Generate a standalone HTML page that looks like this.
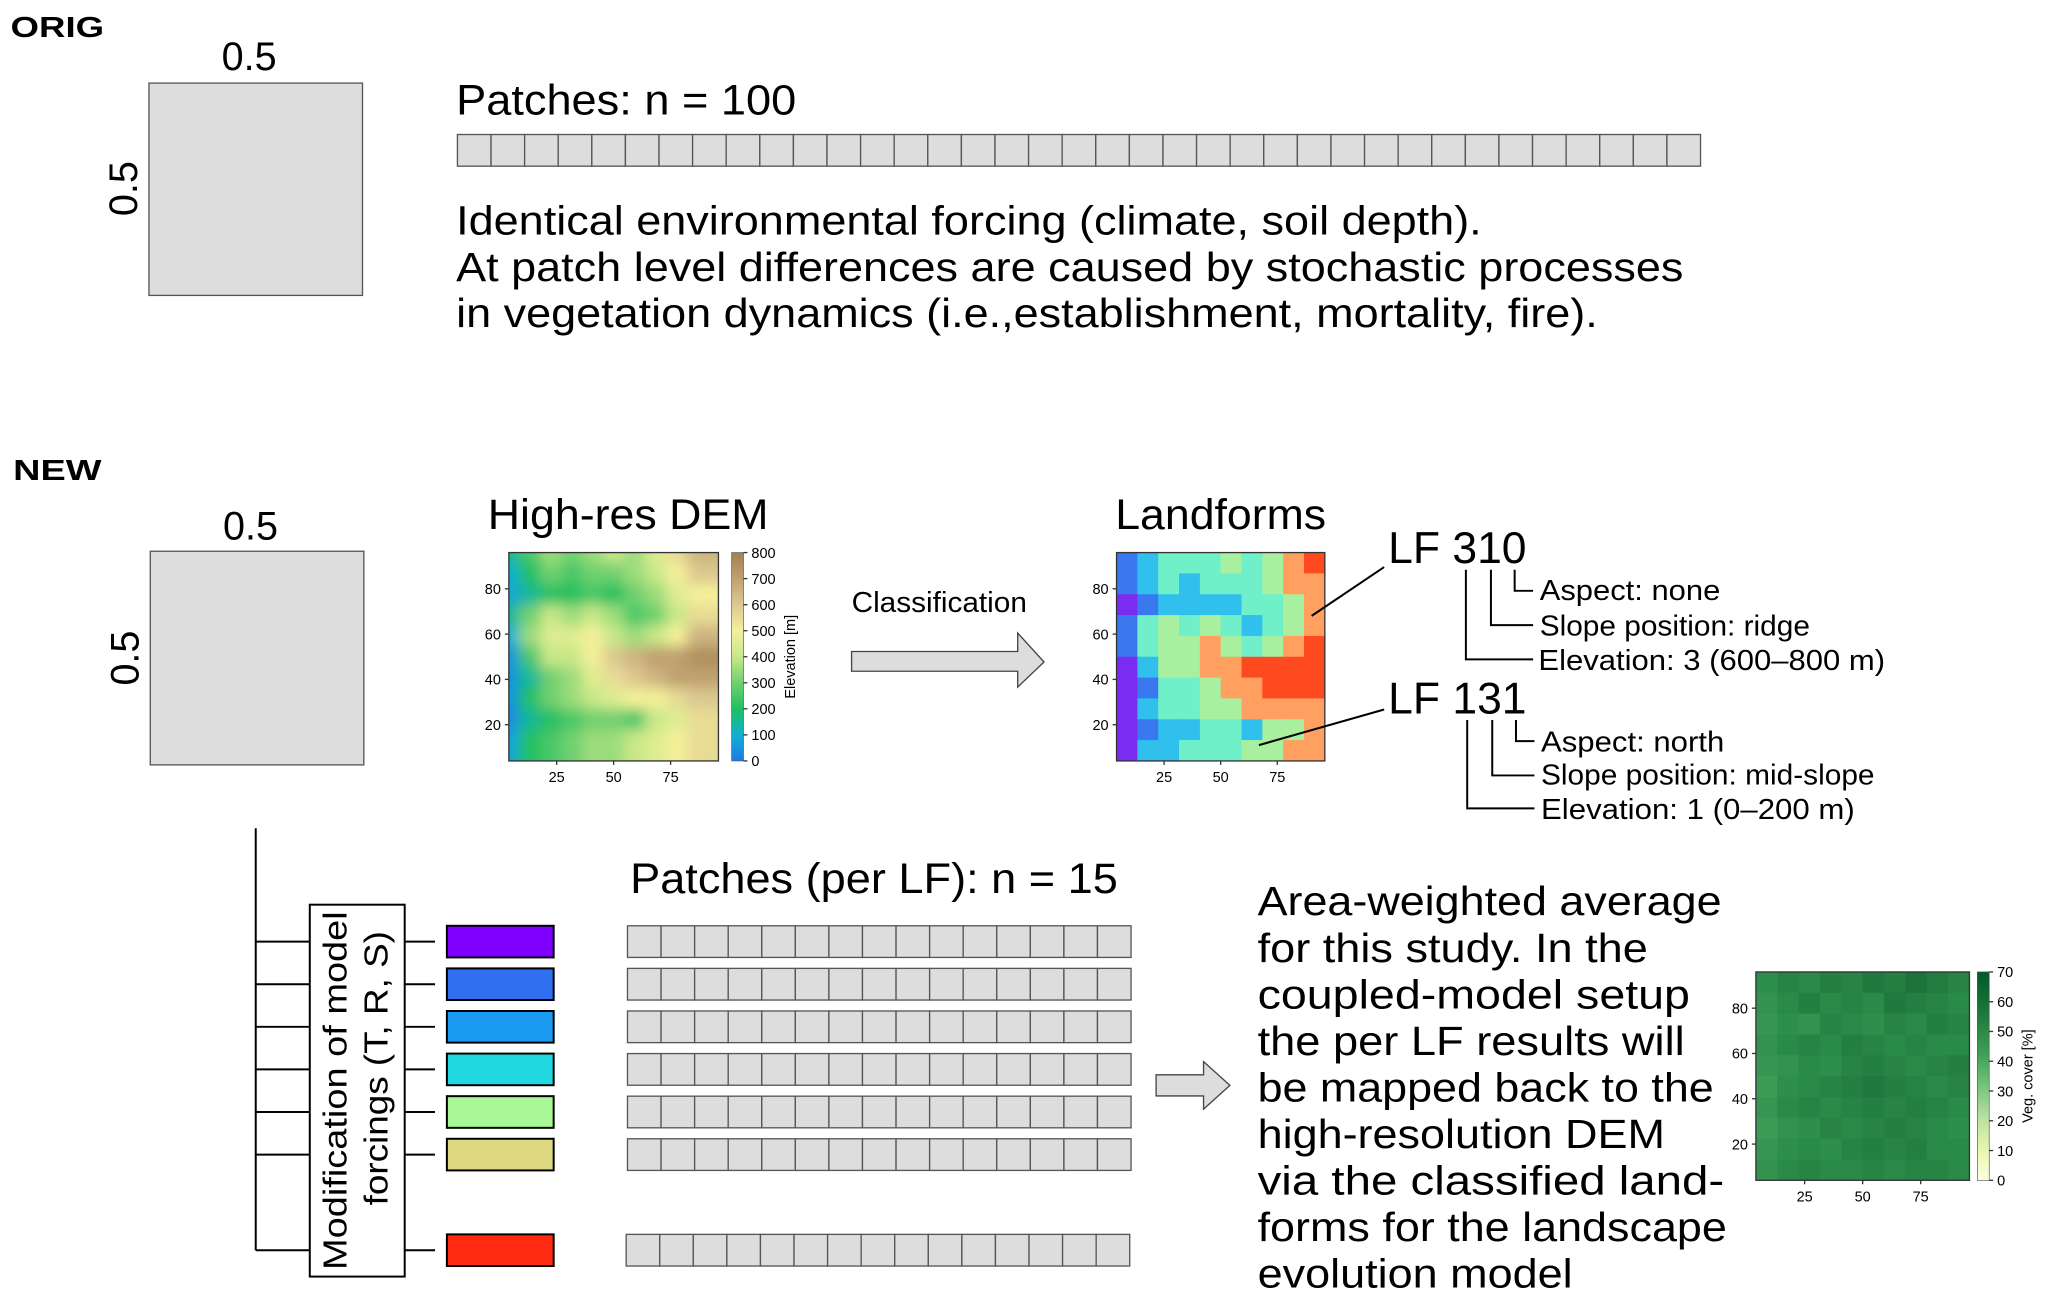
<!DOCTYPE html>
<html><head><meta charset="utf-8"><style>
html,body{margin:0;padding:0;background:#fff;width:2067px;height:1299px;overflow:hidden}
svg{display:block}
text{font-family:"Liberation Sans",sans-serif;fill:#000}
</style></head><body>
<svg id="fig" width="2067" height="1299" viewBox="0 0 1568 985" preserveAspectRatio="none" xmlns="http://www.w3.org/2000/svg">
<defs>
<filter id="blur" x="0" y="0" width="1" height="1"><feGaussianBlur stdDeviation="5"/></filter>
<clipPath id="clipDem"><rect x="386" y="419" width="159" height="158"/></clipPath>
<clipPath id="clipLf"><rect x="847" y="419" width="158" height="158"/></clipPath>
<clipPath id="clipVeg"><rect x="1332" y="737" width="162" height="158"/></clipPath>
<linearGradient id="demCb" x1="0" y1="1" x2="0" y2="0">
<stop offset="0" stop-color="#1f78e8"/><stop offset="0.125" stop-color="#10b0d0"/><stop offset="0.25" stop-color="#20c060"/><stop offset="0.375" stop-color="#70d070"/><stop offset="0.5" stop-color="#c8e888"/><stop offset="0.625" stop-color="#f4f09a"/><stop offset="0.75" stop-color="#dcc890"/><stop offset="0.875" stop-color="#c0a070"/><stop offset="1" stop-color="#a08050"/></linearGradient>
<linearGradient id="vegCb" x1="0" y1="1" x2="0" y2="0">
<stop offset="0" stop-color="#ffffe0"/><stop offset="0.15" stop-color="#e8f5b0"/><stop offset="0.3" stop-color="#b8e0a0"/><stop offset="0.45" stop-color="#78c47c"/><stop offset="0.6" stop-color="#40a058"/><stop offset="0.8" stop-color="#20773c"/><stop offset="1" stop-color="#005a28"/></linearGradient>
</defs>

<text x="8" y="28" font-size="22" font-weight="bold" textLength="71" lengthAdjust="spacingAndGlyphs">ORIG</text>
<text x="189" y="53" font-size="30" text-anchor="middle">0.5</text>
<rect x="113" y="63" width="162" height="161" fill="#dddddd" stroke="#555" stroke-width="1"/>
<text transform="translate(104,143) rotate(-90)" font-size="30" text-anchor="middle">0.5</text>
<text x="346" y="87" font-size="32" textLength="258" lengthAdjust="spacingAndGlyphs">Patches: n = 100</text>
<g id="origStrip"></g>
<text x="346" y="178" font-size="31" textLength="778" lengthAdjust="spacingAndGlyphs">Identical environmental forcing (climate, soil depth).</text>
<text x="346" y="213" font-size="31" textLength="931" lengthAdjust="spacingAndGlyphs">At patch level differences are caused by stochastic processes</text>
<text x="346" y="248" font-size="31" textLength="866" lengthAdjust="spacingAndGlyphs">in vegetation dynamics (i.e.,establishment, mortality, fire).</text>

<text x="10" y="364" font-size="22" font-weight="bold" textLength="67" lengthAdjust="spacingAndGlyphs">NEW</text>
<text x="190" y="409" font-size="30" text-anchor="middle">0.5</text>
<rect x="114" y="418" width="162" height="162" fill="#dddddd" stroke="#555" stroke-width="1"/>
<text transform="translate(105,499) rotate(-90)" font-size="30" text-anchor="middle">0.5</text>

<text x="370" y="401" font-size="32" textLength="213" lengthAdjust="spacingAndGlyphs">High-res DEM</text>
<g id="dem"></g>
<text x="646" y="464" font-size="22" textLength="133" lengthAdjust="spacingAndGlyphs">Classification</text>
<path d="M646,494 H772 V480 L792,502 L772,521 V509 H646 Z" fill="#dddddd" stroke="#444" stroke-width="1"/>
<text x="846" y="401" font-size="32" textLength="160" lengthAdjust="spacingAndGlyphs">Landforms</text>
<g id="lf"></g>
<line x1="995" y1="467" x2="1050" y2="430" stroke="#000" stroke-width="1.5"/>
<line x1="955" y1="565" x2="1050" y2="538" stroke="#000" stroke-width="1.5"/>
<text x="1053" y="427" font-size="34" textLength="105" lengthAdjust="spacingAndGlyphs">LF 310</text>
<text x="1053" y="541" font-size="34" textLength="105" lengthAdjust="spacingAndGlyphs">LF 131</text>
<g fill="none" stroke="#000" stroke-width="1.5">
<path d="M1112,432 V500 H1163 M1131,432 V474 H1163 M1149,432 V448 H1163"/>
</g>
<g fill="none" stroke="#000" stroke-width="1.5">
<path d="M1113,546 V613 H1164 M1132,546 V588 H1164 M1150,546 V562 H1164"/>
</g>
<text x="1168" y="455" font-size="22" textLength="137" lengthAdjust="spacingAndGlyphs">Aspect: none</text>
<text x="1168" y="482" font-size="22" textLength="205" lengthAdjust="spacingAndGlyphs">Slope position: ridge</text>
<text x="1167" y="508" font-size="22" textLength="263" lengthAdjust="spacingAndGlyphs">Elevation: 3 (600–800 m)</text>
<text x="1169" y="570" font-size="22" textLength="139" lengthAdjust="spacingAndGlyphs">Aspect: north</text>
<text x="1169" y="595" font-size="22" textLength="253" lengthAdjust="spacingAndGlyphs">Slope position: mid-slope</text>
<text x="1169" y="621" font-size="22" textLength="238" lengthAdjust="spacingAndGlyphs">Elevation: 1 (0–200 m)</text>

<path d="M194,628 V948" stroke="#000" stroke-width="1.5" fill="none"/>
<g id="bracket"></g>
<rect x="235" y="686" width="72" height="282" fill="#fff" stroke="#000" stroke-width="1.5"/>
<text transform="translate(263,827) rotate(-90)" font-size="25" text-anchor="middle" textLength="272" lengthAdjust="spacingAndGlyphs">Modification of model</text>
<text transform="translate(294,810) rotate(-90)" font-size="25" text-anchor="middle" textLength="208" lengthAdjust="spacingAndGlyphs">forcings (T, R, S)</text>
<g id="lfRows"></g>
<text x="478" y="677" font-size="32" textLength="370" lengthAdjust="spacingAndGlyphs">Patches (per LF): n = 15</text>
<path d="M877,815 H913 V805 L933,823 L913,841 V831 H877 Z" fill="#dddddd" stroke="#444" stroke-width="1"/>
<g id="para"></g>
<g id="veg"></g>
</svg>
<script>
// ---- data ----
const origPatchCount = 37;
const lfPatchCount = 15;
const lfColors = ["#8000ff","#3070f0","#1a9af0","#20d8e0","#a8f898","#ddd880","#ff2a10"];
const axisTicks = [20,40,60,80];
const axisTicksX = [25,50,75];
const demTicks = [0,100,200,300,400,500,600,700,800];
const vegTicks = [0,10,20,30,40,50,60,70];
const elevation = [
 [150,250,350,300,350,400,350,450,550,650],
 [100,200,300,250,300,300,350,400,500,600],
 [ 80,150,200,200,250,200,300,350,450,500],
 [150,300,400,350,400,350,250,300,400,550],
 [100,350,450,450,500,400,350,400,500,650],
 [ 50,250,400,400,500,600,650,700,700,750],
 [ 50,150,300,350,450,550,600,650,700,700],
 [ 50,200,300,350,400,450,500,500,550,600],
 [ 30,150,200,250,300,300,250,400,450,550],
 [ 80,200,250,300,350,350,400,450,500,550]];
const vegCover = [
 [48,52,50,54,52,56,54,58,55,52],
 [46,50,54,50,52,50,56,54,52,50],
 [44,48,46,52,50,48,52,50,54,52],
 [46,50,52,50,54,52,50,52,50,50],
 [44,46,50,48,52,54,52,50,52,54],
 [42,48,50,52,54,56,54,52,50,52],
 [44,50,52,50,52,54,52,54,52,50],
 [42,46,48,52,50,52,54,52,50,48],
 [44,48,50,48,52,54,52,54,50,50],
 [46,50,52,50,50,52,50,52,52,50]];
const paragraph = ["Area-weighted average","for this study. In the","coupled-model setup","the per LF results will","be mapped back to the","high-resolution DEM","via the classified land-","forms for the landscape","evolution model"];
const paragraphWidths = [352,296,328,324,346,309,354,356,239];

const NS="http://www.w3.org/2000/svg";
function mk(tag, attrs, parent){const e=document.createElementNS(NS,tag);for(const k in attrs)e.setAttribute(k,attrs[k]);parent.appendChild(e);return e;}
function lerpColor(stops, v){
  for(let i=0;i<stops.length-1;i++){const a=stops[i],b=stops[i+1];
    if(v<=b[0]){const t=Math.max(0,(v-a[0])/(b[0]-a[0]));
      const ca=a[1].match(/\w\w/g).map(h=>parseInt(h,16)),cb=b[1].match(/\w\w/g).map(h=>parseInt(h,16));
      return "rgb("+ca.map((c,j)=>Math.round(c+(cb[j]-c)*t)).join(",")+")";}}
  return "#"+stops[stops.length-1][1];}
const demStops=[[0,"1f78e8"],[100,"10b0d0"],[200,"20c060"],[300,"70d070"],[400,"c8e888"],[500,"f4f09a"],[600,"dcc890"],[700,"c0a070"],[800,"a08050"]];
const vegStops=[[0,"ffffe0"],[10,"e8f5b0"],[20,"b8e0a0"],[30,"78c47c"],[40,"40a058"],[50,"2a8a48"],[60,"1a6e38"],[70,"005a28"]];
function lfClass(v){return v<100?0:v<200?1:v<300?2:v<400?3:v<500?4:v<650?5:6;}
const lfMapColors=["#7a2cf0","#3a78f0","#30c0ee","#70f0c8","#a8f0a0","#ffa060","#ff4a20"];

// patch strip
const os=document.getElementById('origStrip');
const ow=943/origPatchCount;
for(let i=0;i<origPatchCount;i++){const r=mk('rect',{x:347+i*ow,y:102,width:ow,height:24,fill:'#dddddd',stroke:'#555','stroke-width':1},os);

}

// map drawing
function drawMap(g, x0,y0,w,h, grid, colorFn, clip, blur, cbX, cbFill, ticks, tmax, cbLabel, cbLabelX){
  const rows=grid.length, cols=grid[0].length;
  const sx=v=>x0+(v-4)/92*w, sy=v=>y0+h-(v-4)/92*h;
  const inner=mk('g',{'clip-path':'url(#'+clip+')'},g);
  const holder=mk('g',blur?{filter:'url(#blur)'}:{},inner);
  const cw=w/cols, ch=h/rows;
  grid.forEach((row,r)=>row.forEach((v,c)=>{
    const e=mk('rect',{x:x0+c*cw-(blur?cw*0.5:0),y:y0+r*ch-(blur?ch*0.5:0),width:cw*(blur?2:1)+0.5,height:ch*(blur?2:1)+0.5,fill:colorFn(v)},holder);
    
    
  }));
  if(blur){ holder.insertBefore(mk('rect',{x:x0-20,y:y0-20,width:w+40,height:h+40,fill:colorFn(grid[0][0])},holder),holder.firstChild); }
  mk('rect',{x:x0,y:y0,width:w,height:h,fill:'none',stroke:'#333','stroke-width':1},g);
  axisTicks.forEach(t=>{mk('line',{x1:x0-3,x2:x0,y1:sy(t),y2:sy(t),stroke:'#333'},g);
    const tx=mk('text',{x:x0-6,y:sy(t)+4,'font-size':11,'text-anchor':'end',fill:'#222'},g);tx.textContent=t;
    
    });
  axisTicksX.forEach(t=>{mk('line',{x1:sx(t),x2:sx(t),y1:y0+h,y2:y0+h+3,stroke:'#333'},g);
    const tx=mk('text',{x:sx(t),y:y0+h+16,'font-size':11,'text-anchor':'middle',fill:'#222'},g);tx.textContent=t;
    
    });
  if(cbX!==null){
    const cb=mk('rect',{x:cbX,y:y0,width:9,height:h,fill:cbFill,stroke:'#555','stroke-width':0.5},g);
    
    
    ticks.forEach(t=>{const yy=y0+h-t/tmax*h;mk('line',{x1:cbX+9,x2:cbX+12,y1:yy,y2:yy,stroke:'#333'},g);
      const tx=mk('text',{x:cbX+15,y:yy+4,'font-size':11,fill:'#222'},g);tx.textContent=t;
      
      });
    const lb=mk('text',{transform:'translate('+cbLabelX+','+(y0+h/2)+') rotate(-90)','font-size':11,'text-anchor':'middle',fill:'#222'},g);lb.textContent=cbLabel;
    
    
  }
}
drawMap(document.getElementById('dem'),386,419,159,158,elevation,v=>lerpColor(demStops,v),'clipDem',true,555,'url(#demCb)',demTicks,800,'Elevation [m]',603);
drawMap(document.getElementById('lf'),847,419,158,158,elevation,v=>lfMapColors[lfClass(v)],'clipLf',false,null);
drawMap(document.getElementById('veg'),1332,737,162,158,vegCover,v=>lerpColor(vegStops,v),'clipVeg',false,1500,'url(#vegCb)',vegTicks,70,'Veg. cover [%]',1542);

// bracket + rows
const br=document.getElementById('bracket'), rowsG=document.getElementById('lfRows');
lfColors.forEach((c,i)=>{
  const y=702+(i<6?i*32.3:234);
  const cy=y+12;
  mk('line',{x1:194,x2:235,y1:cy,y2:cy,stroke:'#000','stroke-width':1.5},br);
  mk('line',{x1:307,x2:330,y1:cy,y2:cy,stroke:'#000','stroke-width':1.5},br);
  const r=mk('rect',{x:339,y:y,width:81,height:24,fill:c,stroke:'#000','stroke-width':1.5},rowsG);
  
  
  const pw=382/lfPatchCount, px=i<6?476:475;
  for(let k=0;k<lfPatchCount;k++){const p=mk('rect',{x:px+k*pw,y:y,width:pw,height:24,fill:'#dddddd',stroke:'#555','stroke-width':1},rowsG);
    
    }
});

// paragraph
const pg=document.getElementById('para');
paragraph.forEach((s,i)=>{const t=mk('text',{x:954,y:694+i*35.3,'font-size':31,textLength:paragraphWidths[i],lengthAdjust:'spacingAndGlyphs'},pg);t.textContent=s;
  
  });
</script>
</body></html>
